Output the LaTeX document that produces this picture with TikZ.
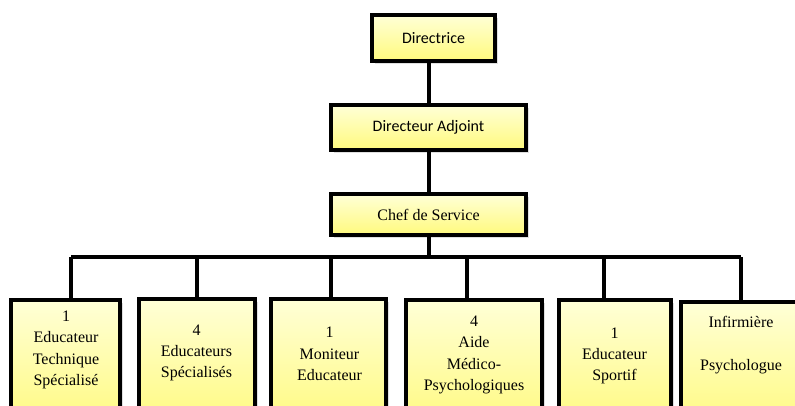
\documentclass[tikz,border=0pt]{standalone}
\usepackage{fontspec}
\setmainfont{Liberation Serif}
\newfontfamily\calib{Carlito}
\usetikzlibrary{shadows}
\definecolor{paleyel}{RGB}{255,255,215}
\definecolor{deepyel}{RGB}{255,250,125}
\tikzset{
  post/.style={draw=black,line width=3pt,rectangle,top color=paleyel,bottom color=deepyel,
    drop shadow={opacity=.25,shadow xshift=2pt,shadow yshift=-2pt},inner sep=0pt},
  unit/.style={post,anchor=north,minimum height=97.5pt},
  lbl/.style={align=center,font=\fontsize{12pt}{16pt}\selectfont},
  link/.style={line width=3pt}
}
\begin{document}
\begin{tikzpicture}[x=0.75pt,y=0.75pt]
\useasboundingbox (0,0) rectangle (795,-405);
%top of the chart
\node[post,minimum width=92.25pt,minimum height=34.5pt,font=\calib\fontsize{12pt}{14pt}\selectfont] (dir) at (433.5,-38) {Directrice};
\node[post,minimum width=146.25pt,minimum height=33.75pt,font=\calib\fontsize{12pt}{14pt}\selectfont] (adj) at (428.5,-127.5) {Directeur Adjoint};
\node[post,minimum width=146.25pt,minimum height=30.75pt,lbl] (chef) at (428.5,-214.5) {Chef de Service};
%staff boxes
\node[unit,minimum width=81.75pt] (b1) at (65.5,-298) {};
\node[unit,minimum width=87pt] (b2) at (197,-297) {};
\node[unit,minimum width=86.25pt] (b3) at (328.5,-297) {};
\node[unit,minimum width=102pt] (b4) at (474,-298) {};
\node[unit,minimum width=84pt] (b5) at (615,-298) {};
\node[unit,minimum width=120pt] (b6) at (761,-300) {};
%staff texts
\node[lbl] (t1) at (66,-350) {1\\Educateur\\Technique\\Spécialisé};
\node[lbl] (t2) at (196.5,-353) {4\\Educateurs\\Spécialisés};
\node[lbl] (t3) at (329.5,-354) {1\\Moniteur\\Educateur};
\node[lbl] (t4) at (474,-355) {4\\Aide\\Médico-\\Psychologiques};
\node[lbl] (t5) at (614.5,-356) {1\\Educateur\\Sportif};
\node[lbl] (t6) at (741,-345) {Infirmière\\[16pt]Psychologue};
%connectors
\coordinate (barL) at (71,-257);
\coordinate (barR) at (741,-257);
\draw[link] (adj.north) -- (adj.north |- dir.south);
\draw[link] (adj) -- (chef);
\draw[link] (chef.south) -- (chef.south |- barL);
\draw[link] (barL) -- (barR);
\foreach \d/\b in {71/b1,197/b2,331/b3,467/b4,604/b5,741/b6}{
\draw[link] (\d,-257) -- (\d,0 |- \b.north);
}
\end{tikzpicture}
\end{document}
